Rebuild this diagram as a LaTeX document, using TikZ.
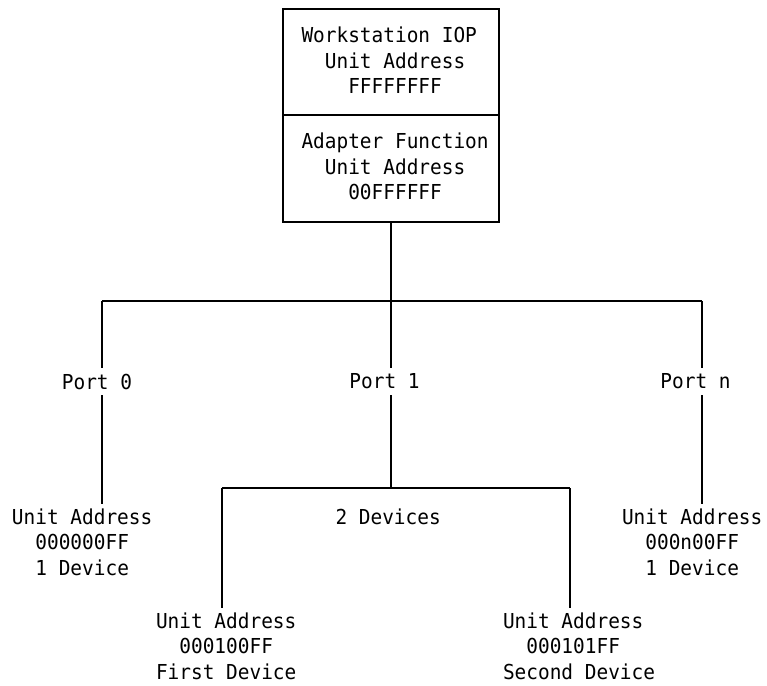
\documentclass[tikz,border=0pt]{standalone}
\usepackage{fontspec}
\setmonofont[FakeStretch=0.943]{DejaVu Sans Mono}
\newcommand\blocktext[1]{\begin{tabular}[t]{@{}l@{}}#1\end{tabular}}
\tikzset{
  monofont/.style={font=\ttfamily\fontsize{20.6}{25.5}\selectfont},
  txt/.style={monofont, inner sep=0pt, outer xsep=0pt, outer ysep=2pt, anchor=base west},
  portlbl/.style={monofont, inner sep=0pt, outer sep=0pt, minimum height=27pt},
  boxpart/.style={draw, line width=1.1pt, minimum width=216pt, anchor=north west, inner sep=0pt, outer sep=0pt},
  wire/.style={line width=1.1pt}
}
\begin{document}
\begin{tikzpicture}[x=1pt,y=-1pt]
\useasboundingbox (0,0) rectangle (767,685);
% stacked box
\node[boxpart, minimum height=106pt] (wsbox) at (283,9) {};
\node[boxpart, minimum height=107pt] (adbox) at (283,115) {};
\node[txt] (wstext) at (301.5,43) {\blocktext{Workstation IOP\\\phantom{00}Unit Address\\\phantom{0000}FFFFFFFF}};
\node[txt] (adtext) at (301.5,148.5) {\blocktext{Adapter Function\\\phantom{00}Unit Address\\\phantom{0000}00FFFFFF}};
% bus
\coordinate (hub) at (391,301);
\coordinate (p0) at (102,301);
\coordinate (pn) at (702,301);
\draw[wire] (adbox.south) -- (hub);
\draw[wire] (p0) -- (pn);
% port labels
\node[portlbl] (port0) at (97,381.5) {Port 0};
\node[portlbl] (port1) at (384.5,381.5) {Port 1};
\node[portlbl] (portn) at (695.5,381.5) {Port n};
% device texts
\node[txt] (ua0) at (12,524) {\blocktext{Unit Address\\\phantom{00}000000FF\\\phantom{00}1 Device}};
\node[txt] (devs) at (335.5,524) {2 Devices};
\node[txt] (uan) at (622,524) {\blocktext{Unit Address\\\phantom{00}000n00FF\\\phantom{00}1 Device}};
\node[txt] (ua10) at (156,628) {\blocktext{Unit Address\\\phantom{00}000100FF\\First Device}};
\node[txt] (ua11) at (503,628) {\blocktext{Unit Address\\\phantom{00}000101FF\\Second Device}};
% port 1 branch
\coordinate (d1hub) at (391,488);
\coordinate (d1l) at (222,488);
\coordinate (d1r) at (570,488);
% connectors
\draw[wire] (p0) -- (p0 |- port0.north) (p0 |- port0.south) -- (p0 |- ua0.north);
\draw[wire] (hub) -- (hub |- port1.north) (hub |- port1.south) -- (d1hub);
\draw[wire] (pn) -- (pn |- portn.north) (pn |- portn.south) -- (pn |- uan.north);
\draw[wire] (d1l) -- (d1r);
\draw[wire] (d1l) -- (d1l |- ua10.north);
\draw[wire] (d1r) -- (d1r |- ua11.north);
\end{tikzpicture}
\end{document}
